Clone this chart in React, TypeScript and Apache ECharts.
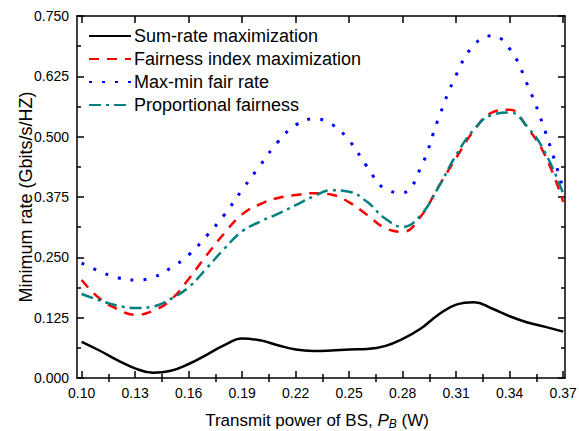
import React, { useEffect, useRef } from "react";
import * as echarts from "echarts";

const xValues = [0.10, 0.11, 0.12, 0.13, 0.14, 0.15, 0.16, 0.17, 0.18, 0.19, 0.20, 0.21, 0.22, 0.23, 0.24, 0.25, 0.26, 0.27, 0.28, 0.29, 0.30, 0.31, 0.32, 0.33, 0.34, 0.35, 0.36, 0.37];

const sumRate = [0.075, 0.057, 0.037, 0.020, 0.011, 0.015, 0.029, 0.048, 0.068, 0.082, 0.078, 0.068, 0.059, 0.056, 0.057, 0.059, 0.060, 0.066, 0.081, 0.102, 0.131, 0.152, 0.157, 0.144, 0.128, 0.115, 0.106, 0.096];
const fairnessIndex = [0.203, 0.165, 0.143, 0.131, 0.139, 0.162, 0.205, 0.254, 0.300, 0.339, 0.360, 0.373, 0.379, 0.383, 0.380, 0.364, 0.338, 0.311, 0.303, 0.334, 0.396, 0.456, 0.513, 0.550, 0.556, 0.518, 0.460, 0.365];
const maxMin = [0.238, 0.221, 0.208, 0.203, 0.2085, 0.228, 0.255, 0.294, 0.338, 0.390, 0.440, 0.489, 0.524, 0.537, 0.526, 0.492, 0.438, 0.392, 0.384, 0.435, 0.537, 0.628, 0.690, 0.709, 0.682, 0.607, 0.510, 0.392];
const proportional = [0.174, 0.161, 0.150, 0.145, 0.148, 0.164, 0.188, 0.227, 0.268, 0.304, 0.324, 0.340, 0.358, 0.376, 0.389, 0.386, 0.365, 0.331, 0.313, 0.337, 0.395, 0.462, 0.515, 0.545, 0.550, 0.520, 0.466, 0.382];

const xMajorTicks = [0.10, 0.13, 0.16, 0.19, 0.22, 0.25, 0.28, 0.31, 0.34, 0.37];
const xMinorTicks = [0.115, 0.145, 0.175, 0.205, 0.235, 0.265, 0.295, 0.325, 0.355];

const seriesNames = ["Sum-rate maximization", "Fairness index maximization", "Max-min fair rate", "Proportional fairness"];

const FONT = "Liberation Sans, Arial, Helvetica, sans-serif";
const X_MIN = 0.0974;
const X_MAX = 0.371;

function zip(ys: number[]) {
  return xValues.map((x, i) => [x, ys[i]]);
}

export default function App() {
  const ref = useRef<HTMLDivElement>(null);
  useEffect(() => {
    if (!ref.current) return;
    const chart = echarts.init(ref.current, null, { renderer: "svg" });
    const axisLine = { show: true, onZero: false, lineStyle: { color: "#000", width: 1.5 } };
    const tickStyle = { color: "#000", width: 1.5 };
    const baseX = {
      type: "value",
      min: X_MIN,
      max: X_MAX,
      splitLine: { show: false },
      axisLine,
    };
    const lineSeries = (name: string, data: number[], lineStyle: any) => ({
      name,
      type: "line",
      smooth: 0.45,
      symbol: "none",
      data: zip(data),
      lineStyle,
      itemStyle: { color: lineStyle.color },
    });
    const option: any = {
      animation: false,
      backgroundColor: "#fff",
      grid: { left: 77, right: 14, top: 16, bottom: 53, containLabel: false, outerBoundsMode: "none" },
      legend: {
        orient: "vertical",
        left: 88,
        top: 27,
        padding: 0,
        itemWidth: 42,
        itemHeight: 16,
        itemGap: 5,
        data: seriesNames,
        itemStyle: { color: "rgba(0,0,0,0)", borderWidth: 0, opacity: 0 },
        textStyle: { fontFamily: FONT, fontSize: 18, color: "#000", padding: [0, 0, 0, -2] },
      },
      xAxis: [
        {
          ...baseX,
          position: "bottom",
          name: "{a|Transmit power of BS, }{i|P}{s|B}{a| (W)}",
          nameLocation: "middle",
          nameGap: 33,
          nameMoveOverlap: false,
          nameTextStyle: {
            fontFamily: FONT,
            fontSize: 17,
            color: "#000",
            padding: [0, 8, 0, 0],
            rich: {
              a: { fontFamily: FONT, fontSize: 17, color: "#000" },
              i: { fontFamily: FONT, fontSize: 17, fontStyle: "italic", color: "#000" },
              s: { fontFamily: FONT, fontSize: 12, fontStyle: "italic", color: "#000", padding: [7, 0, 0, 0] },
            },
          },
          axisTick: { show: true, inside: true, length: 7, customValues: xMajorTicks, lineStyle: tickStyle },
          axisLabel: {
            show: true,
            customValues: xMajorTicks,
            margin: 8,
            fontFamily: FONT,
            fontSize: 14,
            color: "#000",
            formatter: (v: number) => v.toFixed(2),
          },
        },
        {
          ...baseX,
          position: "bottom",
          axisLine: { show: false },
          axisTick: { show: true, inside: true, length: 4, customValues: xMinorTicks, lineStyle: tickStyle },
          axisLabel: { show: false },
        },
        {
          ...baseX,
          position: "top",
          axisTick: { show: true, inside: true, length: 7, customValues: xMajorTicks, lineStyle: tickStyle },
          axisLabel: { show: false },
        },
        {
          ...baseX,
          position: "top",
          axisLine: { show: false },
          axisTick: { show: true, inside: true, length: 4, customValues: xMinorTicks, lineStyle: tickStyle },
          axisLabel: { show: false },
        },
      ],
      yAxis: [
        {
          type: "value",
          position: "left",
          min: 0,
          max: 0.75,
          interval: 0.125,
          splitLine: { show: false },
          axisLine,
          name: "Minimum rate (Gbits/s/HZ)",
          nameLocation: "middle",
          nameGap: 42,
          nameMoveOverlap: false,
          nameTextStyle: { fontFamily: FONT, fontSize: 18, color: "#000" },
          axisTick: { show: true, inside: true, length: 7, lineStyle: tickStyle },
          minorTick: { show: true, splitNumber: 2, length: 4, lineStyle: tickStyle },
          axisLabel: { margin: 8, fontFamily: FONT, fontSize: 14, color: "#000", formatter: (v: number) => v.toFixed(3) },
        },
        {
          type: "value",
          position: "right",
          min: 0,
          max: 0.75,
          interval: 0.125,
          splitLine: { show: false },
          axisLine,
          axisTick: { show: true, inside: true, length: 7, lineStyle: tickStyle },
          minorTick: { show: true, splitNumber: 2, length: 4, lineStyle: tickStyle },
          axisLabel: { show: false },
        },
      ],
      series: [
        lineSeries(seriesNames[0], sumRate, { color: "#000", width: 2.5, type: "solid" }),
        lineSeries(seriesNames[1], fairnessIndex, { color: "#ff0000", width: 2.5, type: [10, 8] }),
        lineSeries(seriesNames[2], maxMin, { color: "#0000ff", width: 3, type: [3, 10] }),
        lineSeries(seriesNames[3], proportional, { color: "#008080", width: 2.5, type: [12, 5, 3, 5] }),
      ],
    };
    chart.setOption(option);
    return () => chart.dispose();
  }, []);
  return <div ref={ref} style={{ position: "absolute", left: 0, top: 0, width: 579, height: 431 }} />;
}
